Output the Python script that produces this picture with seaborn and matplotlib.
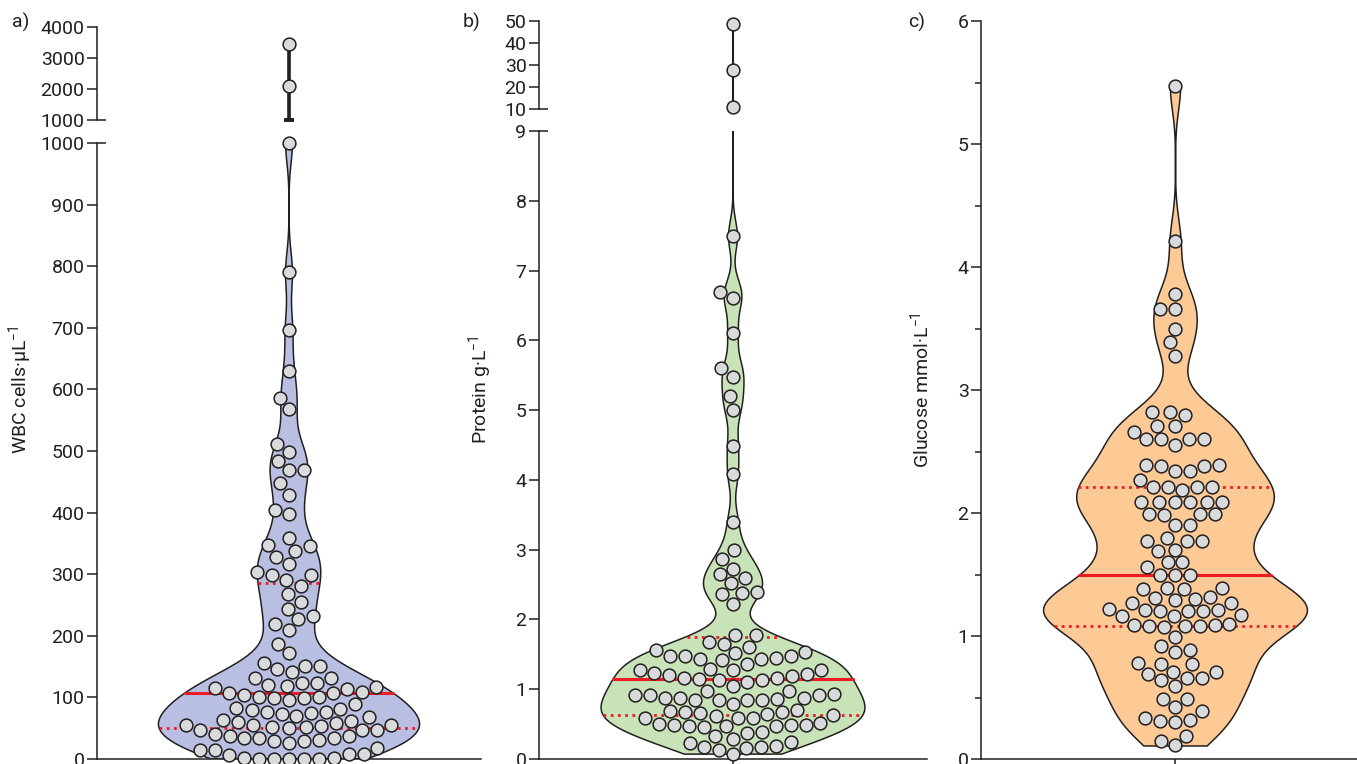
import numpy as np
import matplotlib.pyplot as plt
import seaborn as sns

# values
wbc = [3450, 2100, 1000, 790, 697, 630, 586, 568, 511, 498, 484, 469, 469, 448,
       429, 405, 398, 359, 348, 345, 338, 328, 317, 304, 298, 298, 291, 281, 268,
       255, 244, 232, 228, 219, 210, 187, 172, 156, 151, 151, 146, 141, 132, 132,
       124, 124, 120, 119, 117, 115, 114, 109, 107, 107, 104, 101, 101, 99, 99, 96,
       89, 83, 81, 80, 76, 76, 75, 73, 70, 68, 63, 62, 60, 59, 55, 55, 55, 54, 52,
       52, 50, 47, 47, 47, 41, 37, 37, 34, 34, 34, 31, 29, 29, 26, 18, 15, 15, 8,
       8, 7, 2, 2, 0, 0, 0, 0, 0]

protein = [48.6, 27.7, 10.9, 7.49, 6.69, 6.6, 6.1, 5.6, 5.48, 5.2, 5.0, 4.49, 4.08,
           3.39, 3.0, 2.87, 2.73, 2.65, 2.6, 2.52, 2.4, 2.38, 2.36, 2.22,
           1.78, 1.78, 1.68, 1.65, 1.6, 1.56, 1.54, 1.52, 1.48, 1.47, 1.47, 1.45,
           1.44, 1.44, 1.42, 1.36, 1.29, 1.28, 1.28, 1.28, 1.23, 1.22, 1.21, 1.19,
           1.16, 1.16, 1.15, 1.13, 1.13, 1.11, 1.05, 0.98, 0.98, 0.93, 0.92, 0.92,
           0.92, 0.88, 0.88, 0.88, 0.86, 0.85, 0.85, 0.85, 0.85, 0.79, 0.7, 0.69,
           0.67, 0.67, 0.66, 0.65, 0.63, 0.62, 0.59, 0.59, 0.59, 0.52, 0.5, 0.49,
           0.49, 0.49, 0.47, 0.47, 0.47, 0.46, 0.39, 0.37, 0.33, 0.29, 0.24, 0.23,
           0.19, 0.17, 0.17, 0.16, 0.13, 0.07]

glucose = [5.47, 4.21, 3.78, 3.66, 3.66, 3.50, 3.39, 3.28,
           2.82, 2.82, 2.80, 2.71, 2.71, 2.66, 2.60, 2.60, 2.60, 2.60, 2.55,
           2.39, 2.39, 2.38, 2.38, 2.34, 2.34, 2.27, 2.21, 2.21, 2.21, 2.21, 2.19,
           2.09, 2.09, 2.09, 2.09, 2.09, 2.09, 1.99, 1.99, 1.99, 1.98, 1.90, 1.90,
           1.80, 1.77, 1.77, 1.77, 1.70, 1.69, 1.60, 1.60, 1.56, 1.50, 1.50, 1.50,
           1.39, 1.39, 1.38, 1.38, 1.32, 1.31, 1.30, 1.29, 1.27, 1.27, 1.22, 1.21,
           1.21, 1.20, 1.20, 1.20, 1.17, 1.16, 1.16, 1.10, 1.09, 1.09, 1.08, 1.08,
           1.08, 1.07, 0.99, 0.92, 0.89, 0.87, 0.78, 0.77, 0.77, 0.71, 0.71, 0.69,
           0.66, 0.66, 0.64, 0.59, 0.49, 0.49, 0.42, 0.39, 0.33, 0.32, 0.31, 0.30,
           0.19, 0.15, 0.11]

labels = ["WBC cells·µL$^{-1}$", "Protein g·L$^{-1}$", "Glucose mmol·L$^{-1}$"]
letters = ["a)", "b)", "c)"]
fills = ["#b8bfe3", "#c8e3b8", "#fdca96"]

sns.set_style("ticks")
plt.rcParams["font.family"] = ["Roboto", "DejaVu Sans"]
plt.rcParams["mathtext.default"] = "regular"

ink = "#231f20"
red = "#ed1c24"
dot_face = "#d9dadc"
fs = 14

W, H = 1357, 764
fig = plt.figure(figsize=(W / 100, H / 100), dpi=100)


def box(left, right, top, bottom):
    return [left / W, (H - bottom) / H, (right - left) / W, (bottom - top) / H]


def style_axis(ax, bottom_spine=True):
    ax.spines["top"].set_visible(False)
    ax.spines["right"].set_visible(False)
    for s in ["left", "bottom"]:
        ax.spines[s].set_color(ink)
        ax.spines[s].set_linewidth(1.1)
    ax.tick_params(axis="y", length=7, width=1.1, color=ink, labelsize=fs,
                   labelcolor=ink, pad=2)
    if bottom_spine:
        ax.set_xticks([0])
        ax.set_xticklabels([])
        ax.tick_params(axis="x", length=7, width=1.1, color=ink)
    else:
        ax.spines["bottom"].set_visible(False)
        ax.set_xticks([])
    ax.set_xlabel("")
    ax.set_ylabel("")


def break_mark(ax, y_axes):
    ax.plot([0, 0.024], [y_axes, y_axes], transform=ax.transAxes, color=ink,
            lw=1.1, clip_on=False, solid_capstyle="butt")


def violin(ax, values, color, bw):
    sns.violinplot(y=values, ax=ax, color=color, saturation=1, cut=0,
                   bw_method=bw, gridsize=3000, width=0.68, inner="quart",
                   linewidth=1.1, linecolor=ink)
    qlines = sorted(ax.lines, key=lambda ln: ln.get_ydata()[0])
    for i, ln in enumerate(qlines):
        ln.set_color(red)
        if i == 1:
            ln.set_linestyle("-")
            ln.set_linewidth(2.2)
        else:
            ln.set_linestyle((0, (1, 1.6)))
            ln.set_linewidth(2.0)


def swarm(ax, values):
    sns.swarmplot(y=values, ax=ax, size=9.2, color=dot_face, edgecolor=ink,
                  linewidth=1.1, zorder=3, warn_thresh=1)
    ax.collections[-1].set_clip_on(False)


# panel a) and b): broken axes
panels = [
    dict(data=wbc, left=97, right=481, low=(143, 759), up=(27, 120),
         lim=(0, 1000), ulim=(1000, 4000), ticks=np.arange(0, 1001, 100),
         uticks=np.arange(1000, 4001, 1000), bw=0.08, cap=True),
    dict(data=protein, left=539, right=927, low=(131, 759), up=(21, 109),
         lim=(0, 9), ulim=(10, 50), ticks=np.arange(0, 10, 1),
         uticks=np.arange(10, 51, 10), bw=0.04, cap=False),
]
label_x = [20, 480, 920]
letter_x = [12, 463, 908]

for k, p in enumerate(panels):
    vals = np.array(p["data"])
    low_vals = vals[vals <= p["lim"][1]]
    up_vals = vals[vals > p["lim"][1]]

    ax = fig.add_axes(box(p["left"], p["right"], *p["low"]))
    violin(ax, vals, fills[k], p["bw"])
    swarm(ax, low_vals)
    ax.set_ylim(*p["lim"])
    ax.set_xlim(-0.5, 0.5)
    ax.set_yticks(p["ticks"])
    style_axis(ax)
    break_mark(ax, 1)

    ax2 = fig.add_axes(box(p["left"], p["right"], *p["up"]))
    if p["cap"]:
        ax2.vlines(0, p["ulim"][0], up_vals.max(), color=ink, lw=2.6, zorder=2)
        ax2.hlines(p["ulim"][0], -0.014, 0.014, color=ink, lw=2.8, zorder=2,
                   clip_on=False)
    else:
        ax2.vlines(0, up_vals.min(), up_vals.max(), color=ink, lw=1.5, zorder=2)
    swarm(ax2, up_vals)
    ax2.set_ylim(*p["ulim"])
    ax2.set_xlim(-0.5, 0.5)
    ax2.set_yticks(p["uticks"])
    style_axis(ax2, bottom_spine=False)
    break_mark(ax2, 0)

# panel c)
ax = fig.add_axes(box(981, 1357, 21, 759))
violin(ax, glucose, fills[2], 0.2)
swarm(ax, glucose)
ax.set_ylim(0, 6)
ax.set_xlim(-0.5, 0.469)
ax.set_yticks(np.arange(0, 7, 1))
ax.set_yticks(np.arange(0.5, 6, 1), minor=True)
style_axis(ax)
ax.tick_params(axis="y", which="minor", length=4, width=1.1, color=ink)

for k in range(3):
    fig.text(label_x[k] / W, 1 - 390 / H, labels[k], rotation=90, ha="center",
             va="center", fontsize=fs, color=ink)
    fig.text(letter_x[k] / W, 1 - 22 / H, letters[k], ha="left", va="center",
             fontsize=fs, color=ink)

fig.savefig("out.png", dpi=100)
